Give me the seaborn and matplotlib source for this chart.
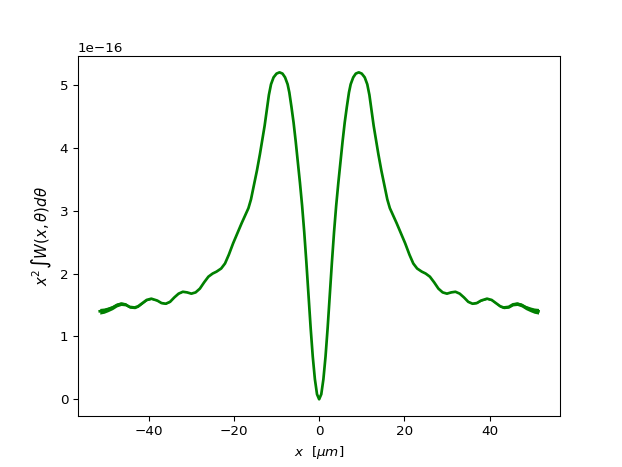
import matplotlib
matplotlib.use("Agg")
import matplotlib.pyplot as plt
import numpy as np
import seaborn as sns

# x positions in micrometres, left half then right half
x_left = [-51.5, -50.5, -49.6, -48.5, -47.5, -46.5, -45.5, -44.5, -43.3,
          -42.5, -41.5, -40.5, -39.4, -38.0, -37.0, -36.0, -35.0, -34.0,
          -33.0, -32.0, -31.0, -30.0, -29.0, -28.0, -27.0, -26.0, -25.0,
          -24.1, -23.0, -22.1, -21.2, -20.2, -19.2, -18.2, -17.4, -16.6, -16.0,
          -15.4, -14.6, -13.9, -13.4, -12.8, -12.3, -11.8, -11.3, -10.7, -10.0,
          -9.3, -8.6, -8.0, -7.4, -7.0, -6.5, -6.0, -5.5, -5.0, -4.5,
          -4.0, -3.5, -3.0, -2.5, -2.0, -1.5, -1.0, -0.5, 0.0]
y_left = [1.40, 1.41, 1.43, 1.46, 1.50, 1.52, 1.51, 1.47, 1.46,
          1.48, 1.53, 1.58, 1.60, 1.57, 1.53, 1.52, 1.55, 1.62,
          1.68, 1.71, 1.70, 1.68, 1.70, 1.76, 1.86, 1.95, 2.00,
          2.03, 2.08, 2.16, 2.30, 2.48, 2.64, 2.80, 2.92, 3.04, 3.18,
          3.38, 3.64, 3.90, 4.10, 4.35, 4.60, 4.84, 5.01, 5.12, 5.18,
          5.20, 5.18, 5.12, 5.01, 4.88, 4.65, 4.40, 4.10, 3.77, 3.44,
          3.08, 2.66, 2.18, 1.66, 1.14, 0.68, 0.32, 0.08, 0.0]
x_right = [0.5, 1.0, 1.5, 2.0, 2.5, 3.0, 3.5, 4.0,
           4.5, 5.0, 5.5, 6.0, 6.5, 7.0, 7.4, 8.0, 8.6, 9.3,
           10.0, 10.7, 11.3, 11.8, 12.3, 12.8, 13.4, 13.9, 14.6, 15.4,
           16.0, 16.6, 17.4, 18.2, 19.2, 20.2, 21.2, 22.1, 23.0, 24.1,
           25.0, 26.0, 27.0, 28.0, 29.0, 30.0, 31.0, 32.0, 33.0,
           34.0, 35.0, 36.0, 37.0, 38.0, 39.4, 40.5, 41.5, 42.5,
           43.3, 44.5, 45.5, 46.5, 47.5, 48.5, 49.6, 50.5, 51.5]
y_right = [0.08, 0.32, 0.68, 1.14, 1.66, 2.18, 2.66, 3.08,
           3.44, 3.77, 4.10, 4.40, 4.65, 4.88, 5.01, 5.12, 5.18, 5.20,
           5.18, 5.12, 5.01, 4.84, 4.60, 4.35, 4.10, 3.90, 3.64, 3.38,
           3.18, 3.04, 2.92, 2.80, 2.64, 2.48, 2.30, 2.16, 2.08, 2.03,
           2.00, 1.95, 1.86, 1.76, 1.70, 1.68, 1.70, 1.71, 1.68,
           1.62, 1.55, 1.52, 1.53, 1.57, 1.60, 1.58, 1.53, 1.48,
           1.46, 1.47, 1.51, 1.52, 1.50, 1.46, 1.43, 1.41, 1.40]
# half-width of the fast ripple that thickens the curve near the edges
ripple_edge = [0.045, 0.042, 0.038, 0.034, 0.031, 0.028, 0.025, 0.022, 0.02,
               0.018, 0.016, 0.014, 0.012, 0.01, 0.008, 0.007, 0.006, 0.005,
               0.004, 0.003, 0.002, 0.001]

ripple_left = ripple_edge + [0.0] * (len(x_left) - len(ripple_edge))
ripple_right = [0.0] * (len(x_right) - len(ripple_edge)) + ripple_edge[::-1]

x = np.array(x_left + x_right)
y = np.array(y_left + y_right) * 1e-16
ripple = np.array(ripple_left + ripple_right) * 1e-16

fig, ax = plt.subplots(figsize=(6.4, 4.8), dpi=97.3)
ax.fill_between(x, y - ripple, y + ripple, color="green", linewidth=0)
sns.lineplot(x=x, y=y, color="green", linewidth=2.0, ax=ax, sort=False)
ax.set_xlabel(r"$x\ \ [\mu m]$")
ax.set_ylabel(r"$x^2\int W(x,\theta)d\theta$", fontsize=11)
fig.savefig("out.png")
